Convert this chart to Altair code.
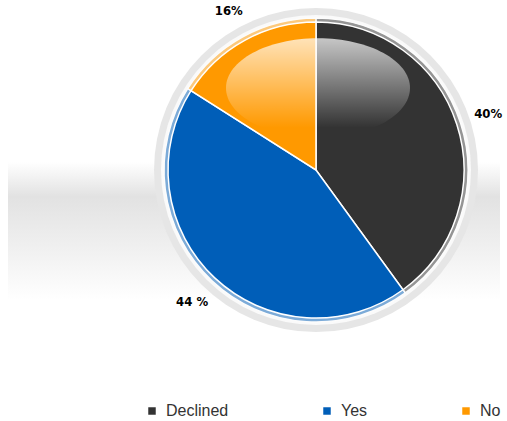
import altair as alt
import pandas as pd

categories = ["Declined", "Yes", "No"]
values = [40, 44, 16]
labels = ["40%", "44 %", "16%"]
colors = ["#333333", "#005eb8", "#ff9900"]
order = [0, 1, 2]

df = pd.DataFrame({"cat": categories, "val": values, "label": labels, "order": order})
one = pd.DataFrame({"a": [0]})

W, H = 507, 421
CX, CY = 316, 170
R = 148

color_scale = alt.Scale(domain=categories, range=colors)
legend = alt.Legend(
    orient="none", legendX=144, legendY=403, direction="horizontal", title=None,
    symbolType="square", symbolSize=56, symbolStrokeWidth=0, symbolOpacity=1,
    labelFontSize=16, labelFont="Liberation Sans", labelColor="#333333",
    columnPadding=90, labelOffset=6,
)

band = alt.Chart(one).mark_rect(
    color=alt.LinearGradient(
        gradient="linear", x1=0, x2=0, y1=0, y2=1,
        stops=[
            alt.GradientStop(offset=0, color="#ffffff"),
            alt.GradientStop(offset=0.25, color="#e2e2e2"),
            alt.GradientStop(offset=0.6, color="#efefef"),
            alt.GradientStop(offset=1, color="#ffffff"),
        ],
    )
).encode(x=alt.value(8), x2=alt.value(500), y=alt.value(162), y2=alt.value(300))

ring_outer = alt.Chart(one).mark_arc(theta=0, theta2=6.2832, radius=162, color="#e6e6e6").encode(
    x=alt.value(CX), y=alt.value(CY))
ring_inner = alt.Chart(one).mark_arc(theta=0, theta2=6.2832, radius=155, color="#fafafa").encode(
    x=alt.value(CX), y=alt.value(CY))

base = alt.Chart(df).encode(
    theta=alt.Theta("val:Q", stack=True),
    order=alt.Order("order:Q"),
    x=alt.value(CX),
    y=alt.value(CY),
)

rim = base.mark_arc(radius=R + 4, opacity=0.5, stroke="white", strokeWidth=1.5).encode(
    color=alt.Color("cat:N", scale=color_scale, legend=legend)
)

pie = base.mark_arc(radius=R, stroke="white", strokeWidth=1.5).encode(
    color=alt.Color("cat:N", scale=color_scale, legend=legend)
)

gloss = alt.Chart(one).mark_point(
    shape="M -1 0 A 1 0.54 0 1 1 1 0 A 1 0.54 0 1 1 -1 0 Z",
    size=184 * 184,
    filled=True,
    opacity=1,
    strokeWidth=0,
    fill=alt.LinearGradient(
        gradient="linear", x1=0, x2=0, y1=0, y2=1,
        stops=[
            alt.GradientStop(offset=0, color="rgba(255,255,255,0.72)"),
            alt.GradientStop(offset=0.9, color="rgba(255,255,255,0.0)"),
        ],
    ),
).encode(x=alt.value(CX + 2), y=alt.value(88))

text = base.mark_text(
    radius=181, font="Liberation Sans Narrow, DejaVu Sans Condensed, Liberation Sans, sans-serif",
    fontWeight="bold", fontSize=13, color="black"
).encode(text="label:N")

chart = alt.layer(band, ring_outer, ring_inner, rim, pie, gloss, text).properties(
    width=W, height=H, padding=0, autosize="none", background="white"
).configure_view(stroke=None)

chart.save("out.html", embed_options={"renderer": "svg", "actions": False})
